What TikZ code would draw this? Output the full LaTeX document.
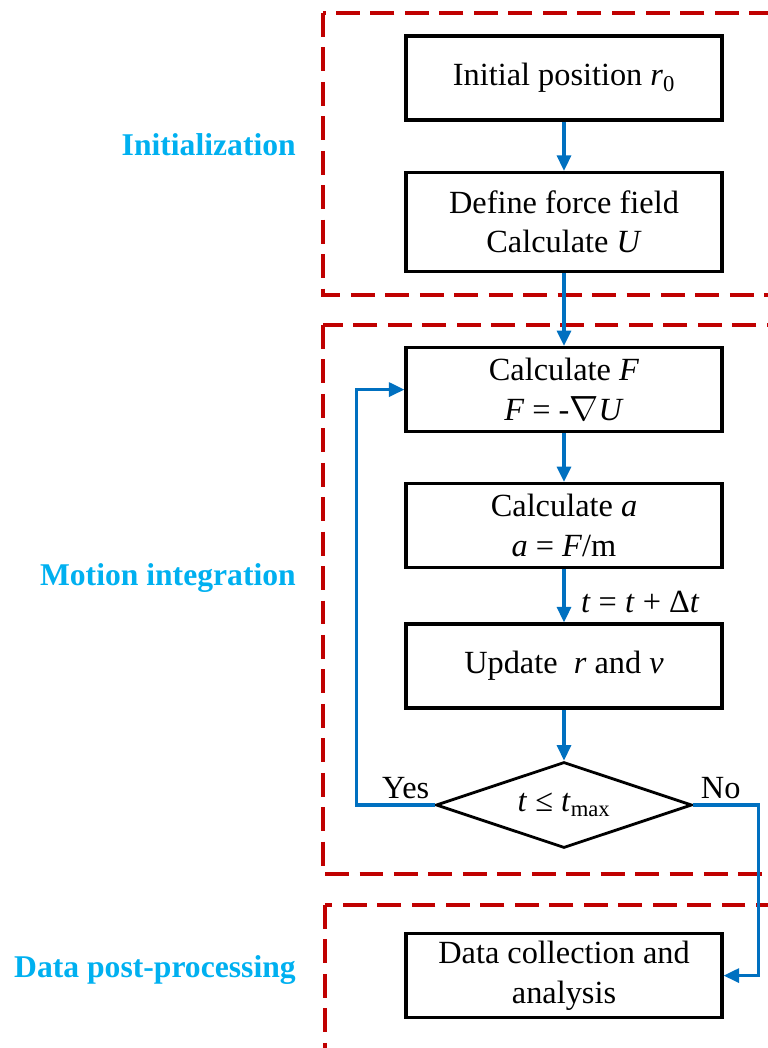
\documentclass[tikz,border=0pt]{standalone}
\usepackage{fontspec}
\setmainfont{Liberation Serif}
\usepackage{xcolor}
\usetikzlibrary{positioning,arrows.meta,shapes.geometric}

\definecolor{stagered}{RGB}{192,0,0}
\definecolor{flowblue}{RGB}{0,112,192}
\definecolor{stagecyan}{RGB}{0,176,240}

\begin{document}
\begin{tikzpicture}[
    font=\fontsize{23}{28}\selectfont,>=Latex,
    stepbox/.style={draw,line width=2.3pt,minimum width=7.9cm,
      minimum height=2.1cm,align=center,inner sep=4pt},
    decision/.style={diamond,draw,line width=2pt,minimum width=6.4cm,
      minimum height=2.15cm,inner sep=0pt,aspect=3},
    stage/.style={draw=stagered,line width=2.4pt,
      dash pattern=on 17pt off 7.5pt},
    stagelabel/.style={anchor=east,text=stagecyan,inner sep=0pt,
      font=\fontsize{22.5}{27}\selectfont\bfseries},
    flow/.style={-{Triangle[length=11pt,width=10pt]},line width=2.2pt,
      draw=flowblue},
    flowtext/.style={inner sep=3pt}
]
\useasboundingbox (0,0) rectangle (19.2,26.2);
\clip (0,0) rectangle (19.2,26.2);

% dashed frames of the three stages
\draw[stage] (8.075,25.875) rectangle (20,18.825);
\draw[stage] (8.075,18.075) rectangle (20,4.35);
\draw[stage] (8.125,3.575) rectangle (20,-1);

\node[stagelabel] (initlabel) at (7.4,22.575) {Initialization};
\node[stagelabel] (motionlabel) at (7.4,11.75) {Motion integration};
\node[stagelabel] (postlabel) at (7.4,1.95) {Data post-processing};

% steps
\node[stepbox] (init) at (14.1,24.25) {Initial position \textit{r}\textsubscript{0}};
\node[stepbox,minimum height=2.475cm] (field) at (14.1,20.65)
  {Define force field\\Calculate \textit{U}};
\node[stepbox] (calcF) at (14.1,16.46)
  {Calculate \textit{F}\\\textit{F} = -$\nabla$\textit{U}};
\node[stepbox] (calca) at (14.1,13.06)
  {Calculate \textit{a}\\\textit{a} = \textit{F}/m};
\node[stepbox] (update) at (14.1,9.55) {Update \ \textit{r} and \textit{v}};
\node[decision] (dec) at (14.1,6.075)
  {\textit{t} ≤ \textit{t}\textsubscript{max}};
\node[stepbox] (data) at (14.1,1.81) {Data collection and\\analysis};

% connectors
\draw[flow] (init) -- (field);
\draw[flow] (field) -- (calcF);
\draw[flow] (calcF) -- (calca);
\draw[flow] (calca) -- node[flowtext,right=8pt,pos=0.62]
  {\textit{t} = \textit{t} + Δ\textit{t}} (update);
\draw[flow] (update) -- (dec);
\draw[flow] (dec.west) -- node[flowtext,above,pos=0.37]{Yes} ++(-1.95,0)
  |- (calcF.west);
\draw[flow] (dec.east) -- node[flowtext,above,pos=0.42]{No} ++(1.625,0)
  |- (data.east);
\end{tikzpicture}
\end{document}
